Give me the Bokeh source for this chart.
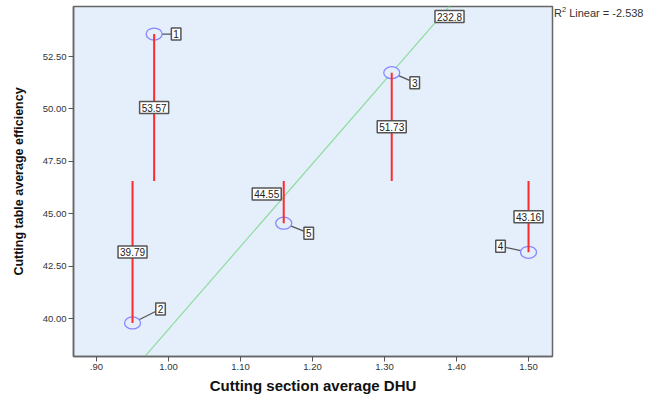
from bokeh.plotting import figure
from bokeh.models import Range1d, FixedTicker, Div
from bokeh.layouts import row
from bokeh.embed import file_html
from bokeh.resources import INLINE
from bokeh.core.properties import value

# ---- data ----
cases = ["1", "2", "3", "4", "5"]
dhu = [0.98, 0.95, 1.31, 1.50, 1.16]
eff = [53.57, 39.79, 51.73, 43.16, 44.55]
fit_slope = 39.49          # fit line through origin
r2_linear = -2.538
x_ticks = [0.90, 1.00, 1.10, 1.20, 1.30, 1.40, 1.50]
x_tick_labels = [".90", "1.00", "1.10", "1.20", "1.30", "1.40", "1.50"]
y_ticks = [40.0, 42.5, 45.0, 47.5, 50.0, 52.5]
y_tick_labels = ["40.00", "42.50", "45.00", "47.50", "50.00", "52.50"]

mean_eff = sum(eff) / len(eff)
total_eff = sum(eff)

# ---- layout / style ----
X0, X1 = 0.868, 1.5333
Y0, Y1 = 38.19, 54.885
FW, FH = 479, 350
pxx = FW / (X1 - X0)
pxy = FH / (Y1 - Y0)
FONT = "Liberation Sans"
BG = "#e4effb"

case_off = [(22, 0), (28, 14), (23, -10), (-28, 6), (25, -10)]
val_off = [(0, 0), (0, 0), (0, 0), (0, 0), (-17, 8)]

p = figure(width=556, height=396, output_backend="svg", toolbar_location=None,
           x_range=Range1d(X0, X1), y_range=Range1d(Y0, Y1),
           min_border_left=73, min_border_right=4, min_border_top=6,
           min_border_bottom=40)
p.background_fill_color = BG
p.border_fill_color = "white"
p.outline_line_color = "#666666"
p.outline_line_width = 1.5
p.grid.visible = False

p.xaxis.ticker = FixedTicker(ticks=x_ticks)
p.xaxis.major_label_overrides = {t: l for t, l in zip(x_ticks, x_tick_labels)}
p.yaxis.ticker = FixedTicker(ticks=y_ticks)
p.yaxis.major_label_overrides = {t: l for t, l in zip(y_ticks, y_tick_labels)}
for ax in (p.xaxis, p.yaxis):
    ax.minor_tick_line_color = None
    ax.major_tick_out = 5
    ax.major_tick_in = 0
    ax.major_tick_line_color = "#555555"
    ax.axis_line_color = "#666666"
    ax.axis_line_width = 1.5
    ax.major_label_text_font = FONT
    ax.major_label_text_font_size = "9.5px"
    ax.major_label_text_color = "#333333"
    ax.axis_label_text_font = FONT
    ax.axis_label_text_font_style = "bold"
    ax.axis_label_text_color = "#111111"
p.xaxis.axis_label = "Cutting section average DHU"
p.yaxis.axis_label = "Cutting table average efficiency"
p.xaxis.axis_label_text_font_size = "15px"
p.yaxis.axis_label_text_font_size = "12.5px"
p.xaxis.major_label_standoff = 2
p.yaxis.major_label_standoff = 2
p.xaxis.axis_label_standoff = 4
p.yaxis.axis_label_standoff = 14

# fit line through origin
fx = [X0, X1]
p.line(fx, [fit_slope * v for v in fx], line_color="#8fdc9f", line_width=1.2)

# leader lines from points to case labels
cx = [x + dx / pxx for x, (dx, dy) in zip(dhu, case_off)]
cy = [y + dy / pxy for y, (dx, dy) in zip(eff, case_off)]
p.segment(dhu, eff, cx, cy, line_color="#555555", line_width=1.3)

# circles
p.ellipse(dhu, eff, width=16, height=12, width_units="screen", height_units="screen",
          fill_color=BG, line_color="#8888ff", line_width=1.3)

# spikes to the mean
p.segment(dhu, eff, dhu, [mean_eff] * len(dhu), line_color="#ff2a2a", line_width=2)

box = dict(text_font=value(FONT), text_font_size="10px", text_color="#222222",
           text_align="center", text_baseline="middle",
           background_fill_color="white", border_line_color="#555555",
           border_line_width=1.5, padding=2)

# value labels at the middle of each spike
vx = [x + dx / pxx for x, (dx, dy) in zip(dhu, val_off)]
vy = [(y + mean_eff) / 2 + dy / pxy for y, (dx, dy) in zip(eff, val_off)]
p.text(vx, vy, text=["%.2f" % v for v in eff], **box)

# case labels
p.text(cx, cy, text=cases, **box)

# total label where the fit line leaves the top
ty = Y1 - 10 / pxy
p.text([ty / fit_slope + 9 / pxx], [ty], text=["%.1f" % total_eff], **box)

r2_div = Div(text="R<sup style='font-size:7.5px'>2</sup> Linear = %.3f" % r2_linear,
             width=97, height=20, margin=(5, 0, 0, -2),
             styles={"font-family": FONT, "font-size": "11px", "color": "#333333",
                     "white-space": "nowrap"})

layout = row(p, r2_div, spacing=0)
open("out.html", "w").write(file_html(layout, INLINE))
